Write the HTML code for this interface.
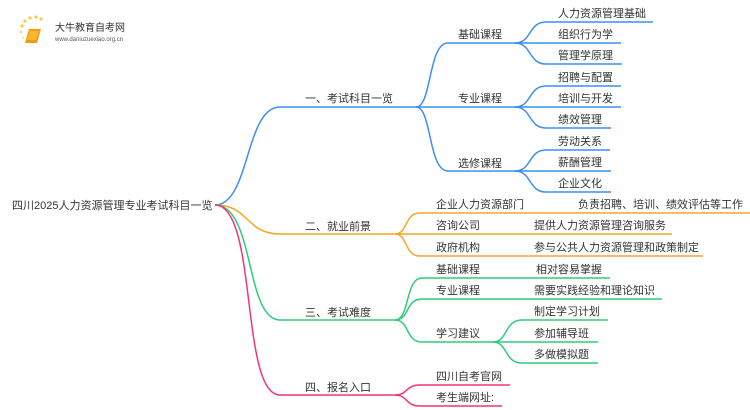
<!DOCTYPE html>
<html><head><meta charset="utf-8"><style>
html,body{margin:0;padding:0;background:#fff;}
svg{display:block;}
text{font-family:"Liberation Sans","Noto Sans CJK SC",sans-serif;font-size:11px;fill:#333;}
</style></head><body>
<svg width="750" height="410" viewBox="0 0 750 410" xmlns="http://www.w3.org/2000/svg">
<g fill="none" stroke-width="1.5">
<path d="M215 205 C250 205,245 107,280 107 L416 107" stroke="#3d8ef0"/>
<path d="M215 205 C250 205,245 234,280 234 L395 234" stroke="#f5a623"/>
<path d="M215 205 C255 205,245 320,280 320 L395 320" stroke="#2ecc7a"/>
<path d="M215 205 C258 205,240 395,280 395 L395 395" stroke="#f0347d"/>
<path d="M416 107 C432 107,428 43,448 43 L515 43" stroke="#3d8ef0"/>
<path d="M416 107 L515 107" stroke="#3d8ef0"/>
<path d="M416 107 C432 107,428 171,448 171 L515 171" stroke="#3d8ef0"/>
<path d="M515 43 C532 43,528 22,546 22 L653 22" stroke="#3d8ef0"/>
<path d="M515 43 L621 43" stroke="#3d8ef0"/>
<path d="M515 43 C532 43,528 64,546 64 L622 64" stroke="#3d8ef0"/>
<path d="M515 107 C532 107,528 86,546 86 L621 86" stroke="#3d8ef0"/>
<path d="M515 107 L621 107" stroke="#3d8ef0"/>
<path d="M515 107 C532 107,528 128,546 128 L611 128" stroke="#3d8ef0"/>
<path d="M515 171 C532 171,528 150,546 150 L610 150" stroke="#3d8ef0"/>
<path d="M515 171 L611 171" stroke="#3d8ef0"/>
<path d="M515 171 C532 171,528 192,546 192 L611 192" stroke="#3d8ef0"/>
<path d="M395 234 C408 234,404 213,420 213 L750 213" stroke="#f5a623"/>
<path d="M395 234 L672 234" stroke="#f5a623"/>
<path d="M395 234 C408 234,404 256,420 256 L703 256" stroke="#f5a623"/>
<path d="M395 320 C410 320,405 278,422 278 L610 278" stroke="#2ecc7a"/>
<path d="M395 320 C410 320,405 299,422 299 L662 299" stroke="#2ecc7a"/>
<path d="M395 320 C410 320,405 342,422 342 L493 342" stroke="#2ecc7a"/>
<path d="M493 342 C508 342,504 320,522 320 L608 320" stroke="#2ecc7a"/>
<path d="M493 342 L598 342" stroke="#2ecc7a"/>
<path d="M493 342 C508 342,504 363,522 363 L598 363" stroke="#2ecc7a"/>
<path d="M395 395 C408 395,405 385,420 385 L510 385" stroke="#f0347d"/>
<path d="M395 395 C408 395,405 406,420 406 L502 406" stroke="#f0347d"/>
</g>
<g>
<circle cx="22" cy="26" r="1.6" fill="#f9c74f"/><circle cx="25" cy="21" r="1.6" fill="#f9c74f"/><circle cx="30" cy="18" r="1.6" fill="#f9c74f"/><circle cx="36" cy="17" r="1.6" fill="#f9c74f"/><circle cx="41" cy="19" r="1.6" fill="#f9c74f"/><circle cx="21" cy="32" r="1.4" fill="#fbd38d"/><circle cx="23" cy="38" r="1.2" fill="#fde2b0"/>
<path d="M29 29 L41 29 L37 43 L25 43 Z" fill="#f39c12"/>
<path d="M30 31 L39 31 L36 40 L27 40 Z" fill="#f7b733"/>
<text x="55" y="31" style="font-size:10px;fill:#333">大牛教育自考网</text>
<text x="55" y="41" style="font-size:6px;fill:#555">www.daniuzuexiao.org.cn</text>
</g>
<text x="12" y="209">四川2025人力资源管理专业考试科目一览</text>
<text x="305" y="102">一、考试科目一览</text>
<text x="305" y="230">二、就业前景</text>
<text x="305" y="316">三、考试难度</text>
<text x="305" y="391">四、报名入口</text>
<text x="458" y="38">基础课程</text>
<text x="458" y="102">专业课程</text>
<text x="458" y="167">选修课程</text>
<text x="558" y="17">人力资源管理基础</text>
<text x="558" y="38">组织行为学</text>
<text x="558" y="59">管理学原理</text>
<text x="558" y="81">招聘与配置</text>
<text x="558" y="102">培训与开发</text>
<text x="558" y="123">绩效管理</text>
<text x="558" y="145">劳动关系</text>
<text x="558" y="166">薪酬管理</text>
<text x="558" y="187">企业文化</text>
<text x="436" y="208">企业人力资源部门</text>
<text x="578" y="208">负责招聘、培训、绩效评估等工作</text>
<text x="436" y="229">咨询公司</text>
<text x="534" y="229">提供人力资源管理咨询服务</text>
<text x="436" y="251">政府机构</text>
<text x="534" y="251">参与公共人力资源管理和政策制定</text>
<text x="436" y="273">基础课程</text>
<text x="536" y="273">相对容易掌握</text>
<text x="436" y="294">专业课程</text>
<text x="534" y="294">需要实践经验和理论知识</text>
<text x="436" y="337">学习建议</text>
<text x="534" y="315">制定学习计划</text>
<text x="534" y="337">参加辅导班</text>
<text x="534" y="358">多做模拟题</text>
<text x="436" y="380">四川自考官网</text>
<text x="436" y="401">考生端网址:</text>
</svg>
</body></html>
